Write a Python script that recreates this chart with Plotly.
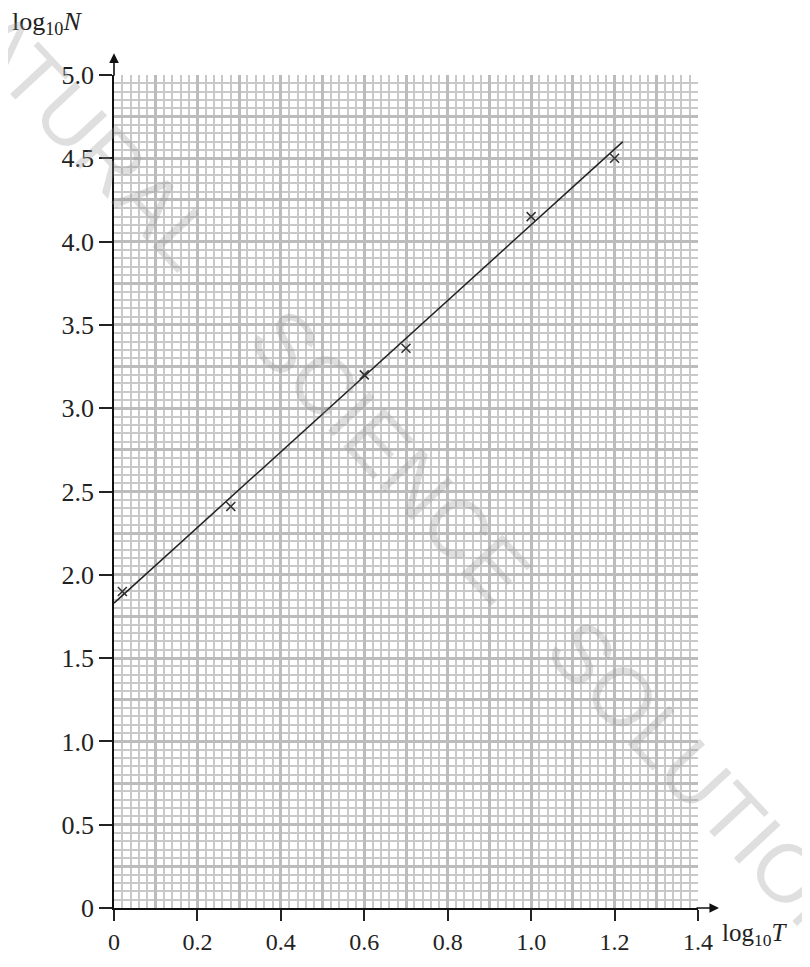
import plotly.graph_objects as go

# data
log_t = [0.02, 0.28, 0.60, 0.70, 1.00, 1.20]
log_n = [1.90, 2.41, 3.20, 3.36, 4.15, 4.50]
fit_x = [0.0, 1.22]
fit_y = [1.83, 4.60]
x_ticks = [0, 0.2, 0.4, 0.6, 0.8, 1.0, 1.2, 1.4]
x_ticktext = ["0", "0.2", "0.4", "0.6", "0.8", "1.0", "1.2", "1.4"]
y_ticks = [0, 0.5, 1.0, 1.5, 2.0, 2.5, 3.0, 3.5, 4.0, 4.5, 5.0]
y_ticktext = ["0", "0.5", "1.0", "1.5", "2.0", "2.5", "3.0", "3.5", "4.0", "4.5", "5.0"]
watermark_words = ["NATURAL", "SCIENCE", "SOLUTIONS"]

SERIF = "Liberation Serif, Times New Roman, serif"

fig = go.Figure()
fig.add_trace(go.Scatter(x=fit_x, y=fit_y, mode="lines",
                         line=dict(color="#222222", width=1.5),
                         xaxis="x2", yaxis="y2", showlegend=False, hoverinfo="skip"))
fig.add_trace(go.Scatter(x=log_t, y=log_n, mode="markers",
                         marker=dict(symbol="x-thin", size=9,
                                     line=dict(color="#333333", width=1.6)),
                         xaxis="x2", yaxis="y2", showlegend=False))
# invisible trace on grid axes
fig.add_trace(go.Scatter(x=[0], y=[0], mode="markers", marker=dict(opacity=0),
                         showlegend=False, hoverinfo="skip"))

grid_major = dict(gridcolor="#bcbcbc", gridwidth=3)
grid_minor = dict(gridcolor="#c9c9c9", gridwidth=1.6, showgrid=True, ticks="")

annotations = [
    dict(text="log<sub>10</sub><i>N</i>", xref="paper", yref="paper",
         x=-0.178, y=1.063, xanchor="left", yanchor="middle", showarrow=False,
         font=dict(family=SERIF, size=26, color="#222")),
    dict(text="log<sub>10</sub><i>T</i>", xref="paper", yref="paper",
         x=1.037, y=-0.032, xanchor="left", yanchor="middle", showarrow=False,
         font=dict(family=SERIF, size=25, color="#222")),
    # axis arrows
    dict(text="", xref="paper", yref="paper", x=0, y=1.026, ax=0, ay=24,
         showarrow=True, arrowhead=2, arrowsize=1.2, arrowwidth=1.6, arrowcolor="#111"),
    dict(text="", xref="paper", yref="paper", x=1.036, y=0, ax=-24, ay=0,
         showarrow=True, arrowhead=2, arrowsize=1.2, arrowwidth=1.6, arrowcolor="#111"),
]
# watermark words placed along the diagonal
wm_pos = [(-0.072, 0.948), (0.473, 0.543), (1.046, 0.122)]
for word, (wx, wy) in zip(watermark_words, wm_pos):
    annotations.append(dict(text=word, xref="paper", yref="paper", x=wx, y=wy,
                            xanchor="center", yanchor="middle", textangle=47,
                            showarrow=False,
                            font=dict(family="Liberation Sans", size=82,
                                      color="rgba(150,150,150,0.3)")))

fig.update_layout(
    width=802, height=959,
    margin=dict(l=106, r=112, t=67, b=57),
    paper_bgcolor="white", plot_bgcolor="white",
    xaxis=dict(range=[0, 1.4], dtick=0.1, tick0=0, showgrid=True, **grid_major,
               minor=dict(dtick=0.02, **grid_minor),
               showticklabels=False, ticks="", zeroline=False, showline=False,
               fixedrange=True),
    yaxis=dict(range=[0, 5], dtick=0.25, tick0=0, showgrid=True, **grid_major,
               minor=dict(dtick=0.05, **grid_minor),
               showticklabels=False, ticks="", zeroline=False, showline=False,
               fixedrange=True),
    xaxis2=dict(range=[0, 1.4], overlaying="x", anchor="y2", showgrid=False,
                tickvals=x_ticks, ticktext=x_ticktext, ticks="outside",
                ticklen=11, tickwidth=1.5, tickcolor="#222",
                showline=True, linecolor="#111", linewidth=1.6, zeroline=False,
                tickfont=dict(family=SERIF, size=24, color="#222")),
    yaxis2=dict(range=[0, 5], overlaying="y", anchor="x2", showgrid=False,
                tickvals=y_ticks, ticktext=y_ticktext, ticks="outside",
                ticklen=13, tickwidth=1.5, tickcolor="#222",
                showline=True, linecolor="#111", linewidth=1.6, zeroline=False,
                tickfont=dict(family=SERIF, size=26, color="#222")),
    annotations=annotations,
)

fig.write_html("out.html")
